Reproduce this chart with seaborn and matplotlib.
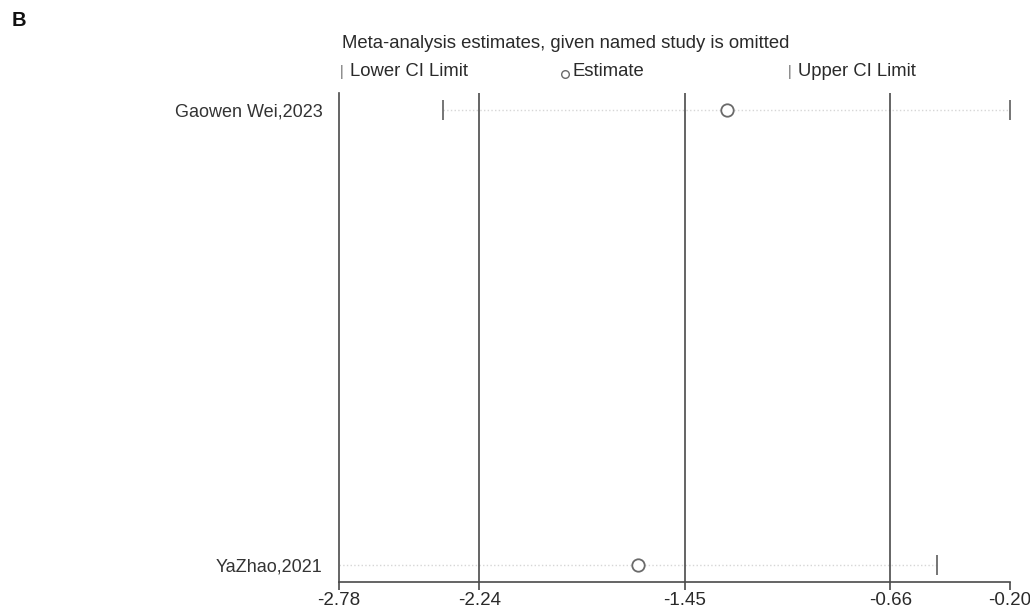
import matplotlib
matplotlib.use("Agg")
import matplotlib.pyplot as plt
import seaborn as sns
import pandas as pd

# 数据：剔除某一研究后的合并估计
studies = ["Gaowen Wei,2023", "YaZhao,2021"]
estimate = [-1.29, -1.63]
lower_ci = [-2.38, -2.78]
upper_ci = [-0.20, -0.48]

ref_lines = [-2.24, -1.45, -0.66]
xticks = [-2.78, -2.24, -1.45, -0.66, -0.20]

sns.set_style("white")
plt.rcParams['font.family'] = ['Liberation Sans', 'DejaVu Sans']

df = pd.DataFrame({'study': studies, 'estimate': estimate,
                   'lower': lower_ci, 'upper': upper_ci})

fig = plt.figure(figsize=(10.3, 6.09), dpi=100)
ax = fig.add_axes([339 / 1030, 1 - 582 / 609, (1010 - 339) / 1030, (582 - 93) / 609])

line_col = '#4a4a4a'
mark_col = '#6a6a6a'
txt_col = '#2a2a2a'

# 置信区间虚线
for i, row in df.iterrows():
    ax.plot([row['lower'], row['upper']], [i, i], ls=':', lw=1.0,
            color='#d6d6d6', zorder=1)

sns.scatterplot(data=df, x='lower', y='study', marker='|', s=220,
                color=mark_col, linewidth=1.3, ax=ax, zorder=3, clip_on=False)
sns.scatterplot(data=df, x='upper', y='study', marker='|', s=220,
                color=mark_col, linewidth=1.3, ax=ax, zorder=3, clip_on=False)
sns.scatterplot(data=df, x='estimate', y='study', marker='o', s=80,
                facecolor='white', edgecolor=mark_col, linewidth=1.3,
                ax=ax, zorder=4, clip_on=False)

for v in ref_lines:
    ax.axvline(v, color=line_col, lw=1.2, zorder=2)

ax.set_xlim(-2.78, -0.20)
ax.set_ylim(1.0374, -0.0374)
ax.set_xticks(xticks)
ax.set_xticklabels([f'{v:.2f}' for v in xticks])
ax.set_xlabel('')
ax.set_ylabel('')

for s in ['top', 'right']:
    ax.spines[s].set_visible(False)
for s in ['left', 'bottom']:
    ax.spines[s].set_color(line_col)
    ax.spines[s].set_linewidth(1.2)

ax.tick_params(axis='x', direction='out', length=6, width=1.2, color=line_col,
               labelsize=13.5, labelcolor=txt_col, pad=1, bottom=True)
ax.tick_params(axis='y', length=0, labelsize=13, labelcolor='#333333', pad=12)

# 标题与图例
fig.text(12 / 1030, 1 - 20 / 609, 'B', fontsize=14.5, fontweight='bold',
         va='center', ha='left', color='#111111')
fig.text(342 / 1030, 1 - 44 / 609, 'Meta-analysis estimates, given named study is omitted',
         fontsize=13.3, va='center', ha='left', color=txt_col)

leg_y = 1 - 72 / 609
fig.text(340 / 1030, leg_y, '|', fontsize=10, va='center', ha='left', color=mark_col)
fig.text(350 / 1030, leg_y, 'Lower CI Limit', fontsize=13.3, va='center', ha='left', color=txt_col)
ax.plot([565 / 1030], [leg_y - 0.003], marker='o', ms=5.5, mfc='white', mec=mark_col, mew=1.0,
        transform=fig.transFigure, clip_on=False)
fig.text(573 / 1030, leg_y, 'Estimate', fontsize=13.3, va='center', ha='left', color=txt_col)
fig.text(788 / 1030, leg_y, '|', fontsize=10, va='center', ha='left', color=mark_col)
fig.text(798 / 1030, leg_y, 'Upper CI Limit', fontsize=13.3, va='center', ha='left', color=txt_col)

fig.savefig('out.png', dpi=100)
